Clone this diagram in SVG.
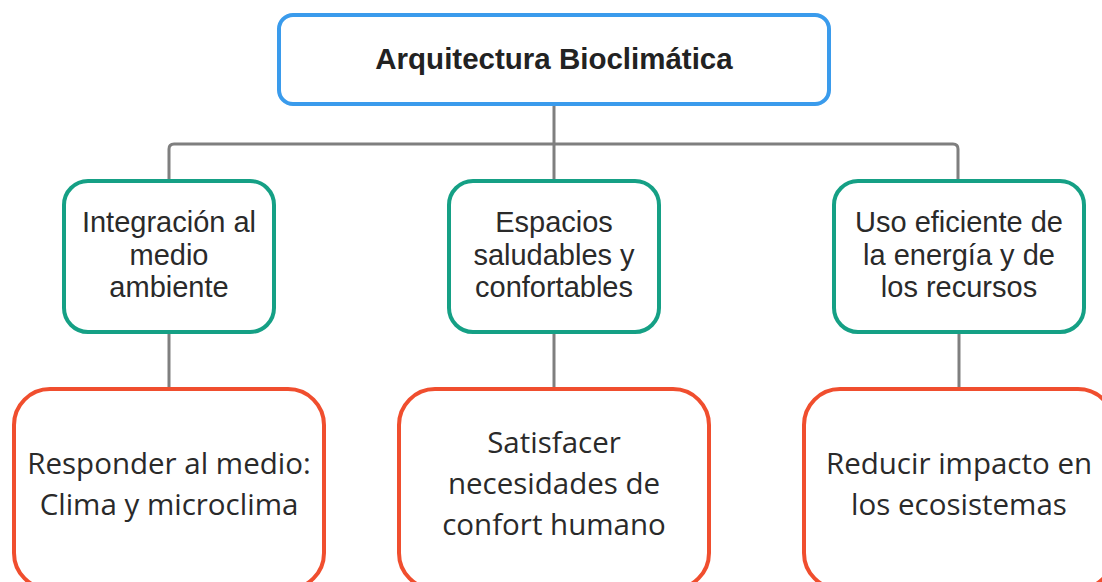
<svg xmlns="http://www.w3.org/2000/svg" width="1102" height="582" viewBox="0 0 1102 582">
<style>
.root{fill:#fff;stroke:#3a9bec;stroke-width:4}
.mid{fill:#fff;stroke:#15a085;stroke-width:4}
.leaf{fill:#fff;stroke:#f04e2e;stroke-width:4}
.conn{fill:none;stroke:#7f7f7f;stroke-width:3}
.t1{font-family:"Liberation Sans",Arial,sans-serif;font-weight:bold;font-size:29.5px;fill:#222;text-anchor:middle}
.t2{font-family:"Liberation Sans",Arial,sans-serif;font-size:29px;fill:#2a2a2a;text-anchor:middle}
.t3{font-family:"Open Sans","Noto Sans",sans-serif;font-size:29.5px;fill:#2a2a2a;text-anchor:middle}
</style>
<rect width="1102" height="582" fill="#fff"/>
<g id="connectors">
<path class="conn" d="M554 104 V144"/>
<path class="conn" d="M169 180 V149 Q169 144 174 144 H953 Q958 144 958 149 V180"/>
<path class="conn" d="M554 144 V180"/>
<path class="conn" d="M169 333 V388"/>
<path class="conn" d="M554 333 V388"/>
<path class="conn" d="M959 333 V388"/>
</g>
<g id="root">
<rect class="root" x="279" y="15" width="550" height="89" rx="14"/>
<text class="t1" x="554" y="69">Arquitectura Bioclimática</text>
</g>
<g id="n1">
<rect class="mid" x="64" y="181" width="210" height="151" rx="24"/>
<text class="t2" x="169" y="232">Integración al</text>
<text class="t2" x="169" y="265">medio</text>
<text class="t2" x="169" y="297">ambiente</text>
</g>
<g id="n2">
<rect class="mid" x="449" y="181" width="210" height="151" rx="24"/>
<text class="t2" x="554" y="232">Espacios</text>
<text class="t2" x="554" y="265">saludables y</text>
<text class="t2" x="554" y="297">confortables</text>
</g>
<g id="n3">
<rect class="mid" x="834" y="181" width="250" height="151" rx="24"/>
<text class="t2" x="959" y="232">Uso eficiente de</text>
<text class="t2" x="959" y="265">la energía y de</text>
<text class="t2" x="959" y="297">los recursos</text>
</g>
<g id="l1">
<rect class="leaf" x="14" y="389" width="310" height="200" rx="36"/>
<text class="t3" x="169" y="474">Responder al medio:</text>
<text class="t3" x="169" y="515">Clima y microclima</text>
</g>
<g id="l2">
<rect class="leaf" x="399" y="389" width="310" height="200" rx="36"/>
<text class="t3" x="554" y="453">Satisfacer</text>
<text class="t3" x="554" y="494">necesidades de</text>
<text class="t3" x="554" y="535">confort humano</text>
</g>
<g id="l3">
<rect class="leaf" x="804" y="389" width="310" height="200" rx="36"/>
<text class="t3" x="959" y="474">Reducir impacto en</text>
<text class="t3" x="959" y="515">los ecosistemas</text>
</g>
</svg>
